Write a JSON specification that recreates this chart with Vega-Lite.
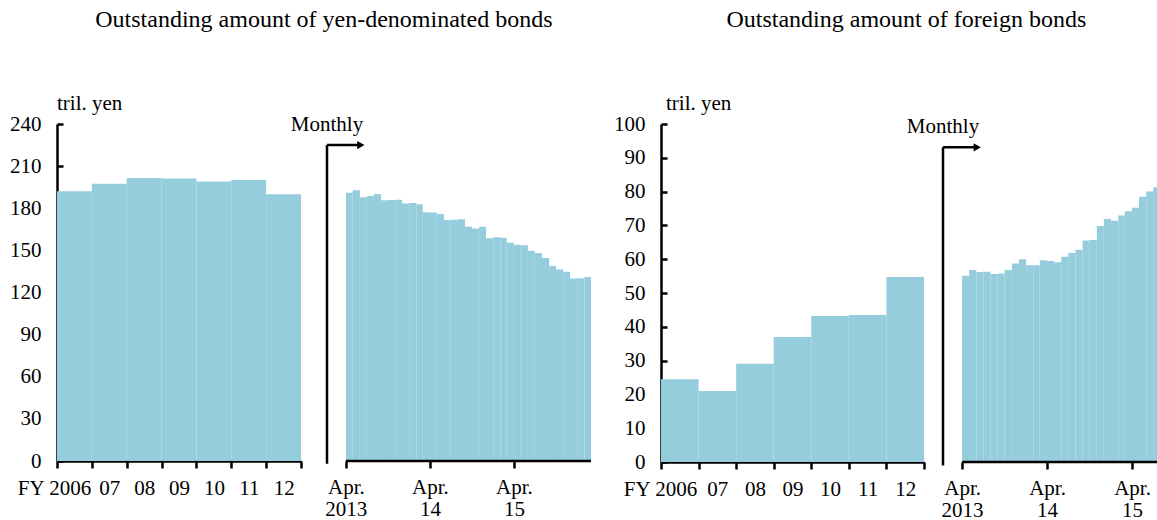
{
  "$schema": "https://vega.github.io/schema/vega-lite/v6.json",
  "padding": {"left": 9, "top": 8, "right": 0, "bottom": 0},
  "config": {
    "font": "Liberation Serif",
    "view": {"stroke": null},
    "axis": {
      "labelFont": "Liberation Serif",
      "labelFontSize": 21,
      "labelColor": "black",
      "domainColor": "black",
      "tickColor": "black",
      "domainWidth": 2.5,
      "tickWidth": 2.5,
      "grid": false,
      "labelFlush": false,
      "labelOverlap": false,
      "labelBound": false
    },
    "title": {"font": "Liberation Serif", "fontWeight": "normal", "color": "black"},
    "text": {"font": "Liberation Serif"}
  },
  "datasets": {
    "yenAnnual": [
      {"fy": 2006, "fy_end": 2007, "value": 192.1},
      {"fy": 2007, "fy_end": 2008, "value": 197.5},
      {"fy": 2008, "fy_end": 2009, "value": 201.6},
      {"fy": 2009, "fy_end": 2010, "value": 201.1},
      {"fy": 2010, "fy_end": 2011, "value": 199.0},
      {"fy": 2011, "fy_end": 2012, "value": 200.1},
      {"fy": 2012, "fy_end": 2013, "value": 190.0}
    ],
    "foreignAnnual": [
      {"fy": 2006, "fy_end": 2007, "value": 24.5},
      {"fy": 2007, "fy_end": 2008, "value": 21.0},
      {"fy": 2008, "fy_end": 2009, "value": 29.1},
      {"fy": 2009, "fy_end": 2010, "value": 37.0},
      {"fy": 2010, "fy_end": 2011, "value": 43.2},
      {"fy": 2011, "fy_end": 2012, "value": 43.5},
      {"fy": 2012, "fy_end": 2013, "value": 54.7}
    ],
    "yenMonthly": [
      {"start": "2013-04-01", "end": "2013-05-01", "value": 191.1},
      {"start": "2013-05-01", "end": "2013-06-01", "value": 192.8},
      {"start": "2013-06-01", "end": "2013-07-01", "value": 187.8},
      {"start": "2013-07-01", "end": "2013-08-01", "value": 188.7},
      {"start": "2013-08-01", "end": "2013-09-01", "value": 190.2},
      {"start": "2013-09-01", "end": "2013-10-01", "value": 185.7},
      {"start": "2013-10-01", "end": "2013-11-01", "value": 185.8},
      {"start": "2013-11-01", "end": "2013-12-01", "value": 186.1},
      {"start": "2013-12-01", "end": "2014-01-01", "value": 183.3},
      {"start": "2014-01-01", "end": "2014-02-01", "value": 183.8},
      {"start": "2014-02-01", "end": "2014-03-01", "value": 182.8},
      {"start": "2014-03-01", "end": "2014-04-01", "value": 177.1},
      {"start": "2014-04-01", "end": "2014-05-01", "value": 176.9},
      {"start": "2014-05-01", "end": "2014-06-01", "value": 175.9},
      {"start": "2014-06-01", "end": "2014-07-01", "value": 171.7},
      {"start": "2014-07-01", "end": "2014-08-01", "value": 171.8},
      {"start": "2014-08-01", "end": "2014-09-01", "value": 172.2},
      {"start": "2014-09-01", "end": "2014-10-01", "value": 166.8},
      {"start": "2014-10-01", "end": "2014-11-01", "value": 165.6},
      {"start": "2014-11-01", "end": "2014-12-01", "value": 166.9},
      {"start": "2014-12-01", "end": "2015-01-01", "value": 158.7},
      {"start": "2015-01-01", "end": "2015-02-01", "value": 159.4},
      {"start": "2015-02-01", "end": "2015-03-01", "value": 159.0},
      {"start": "2015-03-01", "end": "2015-04-01", "value": 155.4},
      {"start": "2015-04-01", "end": "2015-05-01", "value": 154.0},
      {"start": "2015-05-01", "end": "2015-06-01", "value": 153.6},
      {"start": "2015-06-01", "end": "2015-07-01", "value": 149.7},
      {"start": "2015-07-01", "end": "2015-08-01", "value": 148.2},
      {"start": "2015-08-01", "end": "2015-09-01", "value": 144.5},
      {"start": "2015-09-01", "end": "2015-10-01", "value": 138.8},
      {"start": "2015-10-01", "end": "2015-11-01", "value": 136.4},
      {"start": "2015-11-01", "end": "2015-12-01", "value": 134.8},
      {"start": "2015-12-01", "end": "2016-01-01", "value": 129.9},
      {"start": "2016-01-01", "end": "2016-02-01", "value": 130.1},
      {"start": "2016-02-01", "end": "2016-03-01", "value": 131.0}
    ],
    "foreignMonthly": [
      {"start": "2013-04-01", "end": "2013-05-01", "value": 55.1},
      {"start": "2013-05-01", "end": "2013-06-01", "value": 56.8},
      {"start": "2013-06-01", "end": "2013-07-01", "value": 56.2},
      {"start": "2013-07-01", "end": "2013-08-01", "value": 56.3},
      {"start": "2013-08-01", "end": "2013-09-01", "value": 55.6},
      {"start": "2013-09-01", "end": "2013-10-01", "value": 55.8},
      {"start": "2013-10-01", "end": "2013-11-01", "value": 56.8},
      {"start": "2013-11-01", "end": "2013-12-01", "value": 58.7},
      {"start": "2013-12-01", "end": "2014-01-01", "value": 60.0},
      {"start": "2014-01-01", "end": "2014-02-01", "value": 58.2},
      {"start": "2014-02-01", "end": "2014-03-01", "value": 58.2},
      {"start": "2014-03-01", "end": "2014-04-01", "value": 59.7},
      {"start": "2014-04-01", "end": "2014-05-01", "value": 59.5},
      {"start": "2014-05-01", "end": "2014-06-01", "value": 59.1},
      {"start": "2014-06-01", "end": "2014-07-01", "value": 60.7},
      {"start": "2014-07-01", "end": "2014-08-01", "value": 61.8},
      {"start": "2014-08-01", "end": "2014-09-01", "value": 62.8},
      {"start": "2014-09-01", "end": "2014-10-01", "value": 65.5},
      {"start": "2014-10-01", "end": "2014-11-01", "value": 65.7},
      {"start": "2014-11-01", "end": "2014-12-01", "value": 69.8},
      {"start": "2014-12-01", "end": "2015-01-01", "value": 71.9},
      {"start": "2015-01-01", "end": "2015-02-01", "value": 71.4},
      {"start": "2015-02-01", "end": "2015-03-01", "value": 72.9},
      {"start": "2015-03-01", "end": "2015-04-01", "value": 74.2},
      {"start": "2015-04-01", "end": "2015-05-01", "value": 75.2},
      {"start": "2015-05-01", "end": "2015-06-01", "value": 78.5},
      {"start": "2015-06-01", "end": "2015-07-01", "value": 80.0},
      {"start": "2015-07-01", "end": "2015-08-01", "value": 81.3}
    ]
  },
  "spacing": 20,
  "hconcat": [
    {
      "title": {"text": "Outstanding amount of yen-denominated bonds", "font": "Liberation Serif", "fontWeight": "normal", "color": "black", "fontSize": 24, "anchor": "middle", "offset": 61, "dx": 23},
      "bounds": "flush",
      "spacing": 26,
      "hconcat": [
        {
          "width": 244,
          "height": 337,
          "title": {"text": "tril. yen", "font": "Liberation Serif", "fontWeight": "normal", "color": "black", "fontSize": 21, "anchor": "start", "frame": "group", "offset": -1},
          "data": {"name": "yenAnnual"},
          "mark": {"type": "bar", "color": "#95CDDD"},
          "encoding": {
            "x": {
              "field": "fy", "type": "quantitative",
              "scale": {"domain": [2006, 2013], "nice": false, "zero": false},
              "axis": {
                "title": null,
                "values": [2006, 2007, 2008, 2009, 2010, 2011, 2012, 2013],
                "tickSize": 7,
                "labelPadding": 9,
                "labelAlign": "center",
                "labelOffset": {"condition": {"test": "datum.value == 2006", "value": -3}, "value": 17.5},
                "labelExpr": "datum.value == 2006 ? 'FY 2006' : datum.value == 2013 ? '' : slice(toString(datum.value), 2)"
              }
            },
            "x2": {"field": "fy_end"},
            "y": {
              "field": "value", "type": "quantitative",
              "scale": {"domain": [0, 240], "nice": false},
              "axis": {
                "title": null,
                "values": [0, 30, 60, 90, 120, 150, 180, 210, 240],
                "tickSize": -6,
                "labelPadding": 22
              }
            },
            "y2": {"datum": 0}
          }
        },
        {
          "width": 264,
          "height": 337,
          "layer": [
            {
              "data": {"name": "yenMonthly"},
              "mark": {"type": "bar", "color": "#95CDDD"},
              "encoding": {
                "x": {
                  "field": "start", "type": "temporal",
                  "scale": {"type": "utc", "nice": false, "domain": [{"year": 2013, "month": 1, "date": 9, "utc": true}, {"year": 2016, "month": 3, "date": 1, "utc": true}]},
                  "axis": {
                    "title": null,
                    "domain": false,
                    "values": [{"year": 2013, "month": 4, "date": 1, "utc": true}, {"year": 2014, "month": 4, "date": 1, "utc": true}, {"year": 2015, "month": 4, "date": 1, "utc": true}],
                    "tickSize": 7,
                    "labelPadding": 8,
                    "labelAlign": "center",
                    "labelLineHeight": 22,
                    "labelExpr": "['Apr.', utcFormat(datum.value, '%Y') == '2013' ? '2013' : utcFormat(datum.value, '%y')]"
                  }
                },
                "x2": {"field": "end"},
                "y": {"field": "value", "type": "quantitative", "scale": {"domain": [0, 240], "nice": false}, "axis": null},
                "y2": {"datum": 0}
              }
            },
            {
              "data": {"values": [{}]},
              "mark": {"type": "rule", "color": "black", "strokeWidth": 2.5},
              "encoding": {
                "x": {"datum": {"year": 2013, "month": 4, "date": 1, "utc": true}, "type": "temporal"},
                "x2": {"datum": {"year": 2016, "month": 3, "date": 1, "utc": true}},
                "y": {"datum": 0, "type": "quantitative"}
              }
            },
            {
              "data": {"values": [{}]},
              "mark": {"type": "rule", "color": "black", "strokeWidth": 2.5},
              "encoding": {
                "x": {"datum": {"year": 2013, "month": 1, "date": 9, "utc": true}, "type": "temporal"},
                "y": {"datum": -2, "type": "quantitative"},
                "y2": {"datum": 225}
              }
            },
            {
              "data": {"values": [{}]},
              "mark": {"type": "rule", "color": "black", "strokeWidth": 2.5},
              "encoding": {
                "x": {"datum": {"year": 2013, "month": 1, "date": 9, "utc": true}, "type": "temporal"},
                "x2": {"datum": {"year": 2013, "month": 6, "date": 1, "utc": true}},
                "y": {"datum": 225, "type": "quantitative"}
              }
            },
            {
              "data": {"values": [{}]},
              "mark": {"type": "point", "shape": "triangle-right", "filled": true, "size": 70, "color": "black", "opacity": 1},
              "encoding": {
                "x": {"datum": {"year": 2013, "month": 6, "date": 5, "utc": true}, "type": "temporal"},
                "y": {"datum": 225, "type": "quantitative"}
              }
            },
            {
              "data": {"values": [{}]},
              "mark": {"type": "text", "font": "Liberation Serif", "fontSize": 21, "align": "center", "baseline": "alphabetic", "color": "black"},
              "encoding": {
                "x": {"datum": {"year": 2013, "month": 1, "date": 9, "utc": true}, "type": "temporal"},
                "y": {"datum": 235.3, "type": "quantitative"},
                "text": {"value": "Monthly"}
              }
            }
          ]
        }
      ]
    },
    {
      "title": {"text": "Outstanding amount of foreign bonds", "font": "Liberation Serif", "fontWeight": "normal", "color": "black", "fontSize": 24, "anchor": "middle", "offset": 61, "dx": -6},
      "bounds": "flush",
      "spacing": 19,
      "hconcat": [
        {
          "width": 263,
          "height": 338,
          "title": {"text": "tril. yen", "font": "Liberation Serif", "fontWeight": "normal", "color": "black", "fontSize": 21, "anchor": "start", "frame": "group", "offset": -1, "dx": 5},
          "data": {"name": "foreignAnnual"},
          "mark": {"type": "bar", "color": "#95CDDD"},
          "encoding": {
            "x": {
              "field": "fy", "type": "quantitative",
              "scale": {"domain": [2006, 2013], "nice": false, "zero": false},
              "axis": {
                "title": null,
                "values": [2006, 2007, 2008, 2009, 2010, 2011, 2012, 2013],
                "tickSize": 7,
                "labelPadding": 9,
                "labelAlign": "center",
                "labelOffset": {"condition": {"test": "datum.value == 2006", "value": -1}, "value": 18.8},
                "labelExpr": "datum.value == 2006 ? 'FY 2006' : datum.value == 2013 ? '' : slice(toString(datum.value), 2)"
              }
            },
            "x2": {"field": "fy_end"},
            "y": {
              "field": "value", "type": "quantitative",
              "scale": {"domain": [0, 100], "nice": false},
              "axis": {
                "title": null,
                "values": [0, 10, 20, 30, 40, 50, 60, 70, 80, 90, 100],
                "tickSize": -6,
                "labelPadding": 22
              }
            },
            "y2": {"datum": 0}
          }
        },
        {
          "width": 267,
          "height": 338,
          "layer": [
            {
              "data": {"name": "foreignMonthly"},
              "mark": {"type": "bar", "color": "#95CDDD"},
              "encoding": {
                "x": {
                  "field": "start", "type": "temporal",
                  "scale": {"type": "utc", "nice": false, "domain": [{"year": 2013, "month": 1, "date": 9, "utc": true}, {"year": 2016, "month": 3, "date": 1, "utc": true}]},
                  "axis": {
                    "title": null,
                    "domain": false,
                    "values": [{"year": 2013, "month": 4, "date": 1, "utc": true}, {"year": 2014, "month": 4, "date": 1, "utc": true}, {"year": 2015, "month": 4, "date": 1, "utc": true}],
                    "tickSize": 7,
                    "labelPadding": 8,
                    "labelAlign": "center",
                    "labelLineHeight": 22,
                    "labelExpr": "['Apr.', utcFormat(datum.value, '%Y') == '2013' ? '2013' : utcFormat(datum.value, '%y')]"
                  }
                },
                "x2": {"field": "end"},
                "y": {"field": "value", "type": "quantitative", "scale": {"domain": [0, 100], "nice": false}, "axis": null},
                "y2": {"datum": 0}
              }
            },
            {
              "data": {"values": [{}]},
              "mark": {"type": "rule", "color": "black", "strokeWidth": 2.5},
              "encoding": {
                "x": {"datum": {"year": 2013, "month": 4, "date": 1, "utc": true}, "type": "temporal"},
                "x2": {"datum": {"year": 2016, "month": 3, "date": 1, "utc": true}},
                "y": {"datum": 0, "type": "quantitative"}
              }
            },
            {
              "data": {"values": [{}]},
              "mark": {"type": "rule", "color": "black", "strokeWidth": 2.5},
              "encoding": {
                "x": {"datum": {"year": 2013, "month": 1, "date": 9, "utc": true}, "type": "temporal"},
                "y": {"datum": -1, "type": "quantitative"},
                "y2": {"datum": 93.1}
              }
            },
            {
              "data": {"values": [{}]},
              "mark": {"type": "rule", "color": "black", "strokeWidth": 2.5},
              "encoding": {
                "x": {"datum": {"year": 2013, "month": 1, "date": 9, "utc": true}, "type": "temporal"},
                "x2": {"datum": {"year": 2013, "month": 6, "date": 1, "utc": true}},
                "y": {"datum": 93.1, "type": "quantitative"}
              }
            },
            {
              "data": {"values": [{}]},
              "mark": {"type": "point", "shape": "triangle-right", "filled": true, "size": 70, "color": "black", "opacity": 1},
              "encoding": {
                "x": {"datum": {"year": 2013, "month": 6, "date": 5, "utc": true}, "type": "temporal"},
                "y": {"datum": 93.1, "type": "quantitative"}
              }
            },
            {
              "data": {"values": [{}]},
              "mark": {"type": "text", "font": "Liberation Serif", "fontSize": 21, "align": "center", "baseline": "alphabetic", "color": "black"},
              "encoding": {
                "x": {"datum": {"year": 2013, "month": 1, "date": 9, "utc": true}, "type": "temporal"},
                "y": {"datum": 97.4, "type": "quantitative"},
                "text": {"value": "Monthly"}
              }
            }
          ]
        }
      ]
    }
  ]
}
